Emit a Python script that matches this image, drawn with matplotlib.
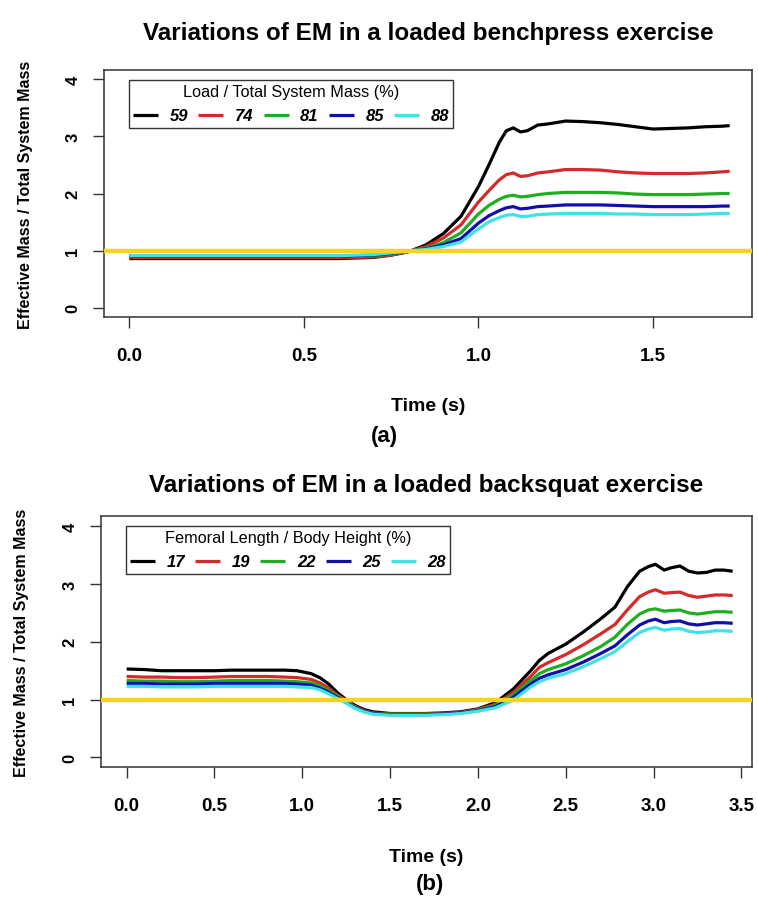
import numpy as np
import matplotlib
matplotlib.use("Agg")
import matplotlib.pyplot as plt

# ---- panel (a): loaded benchpress ----
t_a = [0.0, 0.2, 0.4, 0.6, 0.65, 0.7, 0.75, 0.8, 0.85, 0.9, 0.95, 1.0, 1.03, 1.06,
       1.08, 1.1, 1.12, 1.14, 1.17, 1.2, 1.25, 1.3, 1.35, 1.4, 1.45, 1.5, 1.55,
       1.6, 1.65, 1.7, 1.72]
em_59 = [0.86, 0.86, 0.86, 0.86, 0.87, 0.88, 0.92, 0.98, 1.1, 1.3, 1.6, 2.12, 2.5, 2.9,
         3.1, 3.15, 3.08, 3.1, 3.2, 3.22, 3.27, 3.26, 3.24, 3.21, 3.17, 3.13, 3.14,
         3.15, 3.17, 3.18, 3.19]
em_74 = [0.88, 0.88, 0.88, 0.88, 0.88, 0.89, 0.92, 0.98, 1.07, 1.22, 1.45, 1.85, 2.05, 2.24,
         2.33, 2.36, 2.3, 2.31, 2.36, 2.38, 2.42, 2.42, 2.41, 2.38, 2.36, 2.35, 2.35,
         2.35, 2.36, 2.38, 2.39]
em_81 = [0.9, 0.9, 0.9, 0.9, 0.9, 0.91, 0.94, 0.99, 1.04, 1.14, 1.31, 1.64, 1.79, 1.9,
         1.95, 1.97, 1.94, 1.95, 1.98, 2.0, 2.02, 2.02, 2.02, 2.01, 1.99, 1.98, 1.98,
         1.98, 1.99, 2.0, 2.0]
em_85 = [0.9, 0.9, 0.9, 0.9, 0.91, 0.92, 0.95, 0.99, 1.03, 1.1, 1.21, 1.48, 1.61, 1.7,
         1.75, 1.77, 1.73, 1.74, 1.77, 1.78, 1.8, 1.8, 1.8, 1.79, 1.78, 1.77, 1.77,
         1.77, 1.77, 1.78, 1.78]
em_88 = [0.91, 0.91, 0.91, 0.91, 0.92, 0.93, 0.96, 0.99, 1.02, 1.07, 1.15, 1.38, 1.5, 1.58,
         1.62, 1.63, 1.6, 1.6, 1.63, 1.64, 1.65, 1.65, 1.65, 1.64, 1.64, 1.63, 1.63,
         1.63, 1.64, 1.65, 1.65]
loads = ["59", "74", "81", "85", "88"]

# ---- panel (b): loaded backsquat ----
t_b = [0.0, 0.1, 0.2, 0.3, 0.4, 0.5, 0.6, 0.7, 0.8, 0.9, 0.97, 1.05, 1.1, 1.15, 1.2,
       1.25, 1.3, 1.35, 1.4, 1.5, 1.6, 1.7, 1.8, 1.9, 2.0, 2.1, 2.2, 2.3, 2.35, 2.4,
       2.5, 2.6, 2.7, 2.78, 2.85, 2.92, 2.97, 3.01, 3.06, 3.1, 3.15, 3.2, 3.25, 3.3,
       3.35, 3.4, 3.45]
em_17 = [1.53, 1.52, 1.5, 1.5, 1.5, 1.5, 1.51, 1.51, 1.51, 1.51, 1.5, 1.45, 1.38, 1.27, 1.12,
         1.0, 0.9, 0.83, 0.79, 0.76, 0.76, 0.76, 0.77, 0.79, 0.84, 0.95, 1.18, 1.5, 1.68, 1.8,
         1.96, 2.17, 2.4, 2.6, 2.95, 3.22, 3.3, 3.34, 3.24, 3.28, 3.31, 3.22, 3.19, 3.2,
         3.24, 3.24, 3.22]
em_19 = [1.4, 1.39, 1.39, 1.38, 1.38, 1.39, 1.4, 1.4, 1.4, 1.39, 1.38, 1.35, 1.29, 1.2, 1.08,
         0.98, 0.88, 0.81, 0.77, 0.75, 0.75, 0.75, 0.76, 0.78, 0.83, 0.92, 1.12, 1.4, 1.56, 1.64,
         1.78, 1.95, 2.14, 2.3, 2.55, 2.78, 2.86, 2.9, 2.84, 2.85, 2.86, 2.8, 2.77, 2.79,
         2.81, 2.81, 2.8]
em_22 = [1.33, 1.32, 1.32, 1.31, 1.31, 1.32, 1.33, 1.33, 1.33, 1.32, 1.31, 1.29, 1.24, 1.16, 1.06,
         0.96, 0.87, 0.8, 0.76, 0.75, 0.75, 0.75, 0.75, 0.77, 0.82, 0.9, 1.08, 1.33, 1.45, 1.52,
         1.62, 1.76, 1.92, 2.08, 2.3, 2.48, 2.55, 2.57, 2.53, 2.54, 2.55, 2.5, 2.48, 2.5,
         2.52, 2.52, 2.51]
em_25 = [1.28, 1.28, 1.27, 1.27, 1.27, 1.28, 1.28, 1.28, 1.28, 1.28, 1.27, 1.25, 1.2, 1.13, 1.04,
         0.95, 0.86, 0.8, 0.76, 0.74, 0.74, 0.74, 0.75, 0.77, 0.81, 0.88, 1.04, 1.27, 1.37, 1.43,
         1.52, 1.65, 1.8, 1.93, 2.12, 2.29, 2.36, 2.39, 2.33, 2.35, 2.36, 2.31, 2.29, 2.31,
         2.33, 2.33, 2.32]
em_28 = [1.23, 1.23, 1.22, 1.22, 1.22, 1.23, 1.23, 1.23, 1.23, 1.23, 1.22, 1.21, 1.17, 1.1, 1.02,
         0.94, 0.85, 0.79, 0.75, 0.73, 0.73, 0.73, 0.74, 0.76, 0.8, 0.86, 0.99, 1.22, 1.31, 1.37,
         1.45, 1.57, 1.71, 1.83, 2.0, 2.16, 2.22, 2.25, 2.2, 2.22, 2.23, 2.18, 2.16, 2.17,
         2.19, 2.19, 2.18]
femurs = ["17", "19", "22", "25", "28"]

colors = ["#000000", "#D42A2A", "#1FAE1F", "#1010A8", "#3FE3E3"]
gold = "#F5D31E"
sans = ["Liberation Sans", "DejaVu Sans"]


def draw(ax, t, series, labels, leg_title, title, title_pad, ticks, xlim, leg_anchor):
    for y, c, lab in zip(series, colors, labels):
        ax.plot(t, y, color=c, lw=2.3, label=lab, solid_capstyle="butt")
    ax.axhline(1, color=gold, lw=3.2, zorder=5)
    ax.set_xlim(*xlim)
    ax.set_ylim(-0.17, 4.17)
    ax.set_xticks(ticks)
    ax.set_xticklabels(["%.1f" % v for v in ticks], family=sans,
                       fontweight="bold", fontsize=13.5)
    ax.set_yticks([0, 1, 2, 3, 4])
    ax.set_yticklabels(["0", "1", "2", "3", "4"], family=sans, fontweight="bold",
                       fontsize=12, rotation=90, va="center")
    ax.tick_params(axis="x", length=8, width=1, pad=13.5, color="#333333")
    ax.tick_params(axis="y", length=8, width=1, pad=9, color="#333333")
    for s in ax.spines.values():
        s.set_color("#333333")
        s.set_linewidth(1.1)
    ax.set_title(title, family=sans, fontweight="bold", fontsize=17.5, pad=title_pad)
    ax.set_xlabel("Time (s)", family=sans, fontweight="bold", fontsize=14)
    ax.xaxis.set_label_coords(0.5, -0.32)
    ax.set_ylabel("Effective Mass / Total System Mass", family=sans,
                  fontweight="bold", fontsize=11.5)
    ax.yaxis.set_label_coords(-0.11, 0.5)
    leg = ax.legend(loc="upper left", bbox_to_anchor=leg_anchor, ncol=5,
                    title=leg_title, frameon=True, fancybox=False,
                    edgecolor="black", handlelength=1.5, handletextpad=0.7,
                    columnspacing=0.6, borderaxespad=0, borderpad=0.25,
                    labelspacing=0.55,
                    prop={"family": sans, "weight": "bold", "style": "italic",
                          "size": 12})
    leg.get_title().set_fontfamily(sans)
    leg.get_title().set_fontsize(11.7)
    leg.get_frame().set_linewidth(1.0)


fig = plt.figure(figsize=(7.58, 9.03), dpi=100)
ax1 = fig.add_axes([104 / 758, 1 - 318.3 / 903, 648 / 758, 247.6 / 903])
ax2 = fig.add_axes([101 / 758, 1 - 768.3 / 903, 651 / 758, 251 / 903])

draw(ax1, t_a, [em_59, em_74, em_81, em_85, em_88], loads,
     "Load / Total System Mass (%)",
     "Variations of EM in a loaded benchpress exercise", 22,
     [0.0, 0.5, 1.0, 1.5], (-0.073, 1.784), (0.0386, 0.958))
draw(ax2, t_b, [em_17, em_19, em_22, em_25, em_28], femurs,
     "Femoral Length / Body Height (%)",
     "Variations of EM in a loaded backsquat exercise", 18,
     [0.0, 0.5, 1.0, 1.5, 2.0, 2.5, 3.0, 3.5], (-0.146, 3.56), (0.0384, 0.961))

fig.text(384 / 758, 1 - 437 / 903, "(a)", ha="center", va="center",
         family=sans, fontweight="bold", fontsize=16)
fig.text(430 / 758, 1 - 885 / 903, "(b)", ha="center", va="center",
         family=sans, fontweight="bold", fontsize=16)

fig.savefig("out.png", dpi=100, facecolor="white")
